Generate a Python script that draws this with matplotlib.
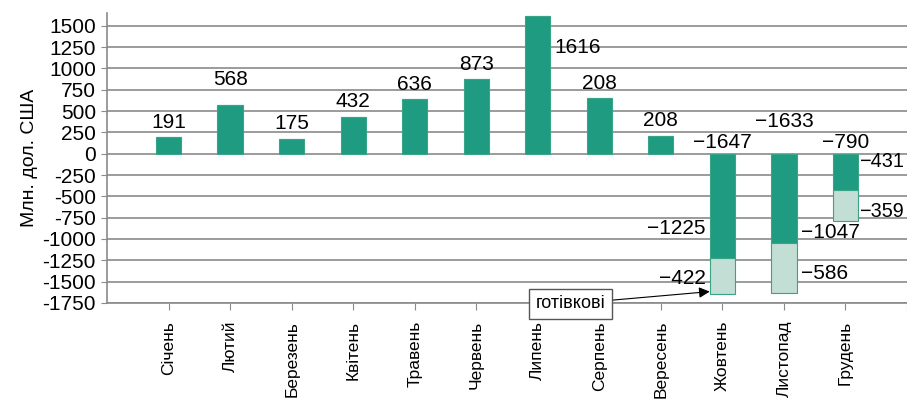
#!/usr/bin/env python3
import matplotlib
matplotlib.use("Agg")
import matplotlib.pyplot as plt

# --- Дані ---
MONTHS = ["Січень", "Лютий", "Березень", "Квітень", "Травень", "Червень",
          "Липень", "Серпень", "Вересень", "Жовтень", "Листопад", "Грудень"]
# основна (темна) частина стовпця
MAIN_VALUES = [191, 568, 175, 432, 636, 873, 1616, 650, 208, -1225, -1047, -431]
# готівкові (світла частина), лише для останніх трьох місяців
CASH_VALUES = [0, 0, 0, 0, 0, 0, 0, 0, 0, -422, -586, -359]
# підписи над стовпцями (як на рисунку)
TOP_LABELS = ["191", "568", "175", "432", "636", "873", "1616", "208", "208",
              "−1647", "−1633", "−790"]
MAIN_LABELS = ["−1225", "−1047", "−431"]
CASH_LABELS = ["−422", "−586", "−359"]
Y_TICKS = list(range(-1750, 1501, 250))

DARK = "#1f9b82"
LIGHT = "#c2ded5"
EDGE = "#3aa487"
GRID = "#8a8a8a"

plt.rcParams["font.family"] = ["Liberation Sans", "DejaVu Sans"]

fig = plt.figure(figsize=(9.07, 4.05), dpi=100)
ax = fig.add_axes([0.118, 0.252, 0.882, 0.716])

x = list(range(len(MONTHS)))
width = 0.41
ax.bar(x, MAIN_VALUES, width=width, color=DARK, edgecolor=EDGE,
       linewidth=0.8, zorder=3)
ax.bar(x, CASH_VALUES, width=width, bottom=MAIN_VALUES, color=LIGHT,
       edgecolor=EDGE, linewidth=0.8, zorder=3)

ax.set_xlim(-1, 12)
ax.set_ylim(-1750, 1650)
ax.set_yticks(Y_TICKS)
ax.set_yticklabels([str(v) for v in Y_TICKS])
ax.set_xticks(list(range(0, 13)))
ax.set_xticklabels(MONTHS + [""], rotation=90, fontsize=12.5)
ax.tick_params(axis="y", labelsize=15, length=4, color=GRID, pad=4)
ax.tick_params(axis="x", length=5, color=GRID, pad=8)
ax.yaxis.grid(True, color=GRID, linewidth=1.2, zorder=0)
for side in ("top", "right"):
    ax.spines[side].set_visible(False)
for side in ("left", "bottom"):
    ax.spines[side].set_color(GRID)
    ax.spines[side].set_linewidth(1.2)
ax.set_ylabel("Млн. дол. США", fontsize=14, labelpad=3)

# підписи значень
fs = 15
for i, (v, lab) in enumerate(zip(MAIN_VALUES, TOP_LABELS)):
    if i == 6:
        ax.annotate(lab, (i + width / 2, v), xytext=(3, -23),
                    textcoords="offset points", ha="left", va="center",
                    fontsize=fs)
    elif v >= 0:
        up = 12 if i == 1 else 4
        ax.annotate(lab, (i, v), xytext=(0, up), textcoords="offset points",
                    ha="center", va="bottom", fontsize=fs)
    else:
        up = 16 if i == 10 else 1
        ax.annotate(lab, (i, 0), xytext=(0, up), textcoords="offset points",
                    ha="center", va="bottom", fontsize=fs)

# підписи частин стовпців (жовтень ліворуч, листопад і грудень праворуч)
for k, i in enumerate([9, 10, 11]):
    main = MAIN_VALUES[i]
    cash = CASH_VALUES[i]
    size = fs
    if i == 9:
        xpos, ha, dx = i - width / 2, "right", -3
    elif i == 10:
        xpos, ha, dx = i + width / 2, "left", 3
    else:
        # грудень — біля правого краю, трохи менший шрифт
        xpos, ha, dx, size = i + width / 2, "left", 0.5, 14.3
    if i == 9:
        main_y = main * 0.72
    elif i == 10:
        main_y = main + 120
    else:
        main_y = main * 0.2
    ax.annotate(MAIN_LABELS[k], (xpos, main_y), xytext=(dx, 0),
                textcoords="offset points", ha=ha, va="center", fontsize=size)
    cash_dy = -2 if i == 9 else -4
    ax.annotate(CASH_LABELS[k], (xpos, main + cash / 2), xytext=(dx, cash_dy),
                textcoords="offset points", ha=ha, va="center", fontsize=size)

# вказівка "готівкові"
ax.annotate("готівкові", xy=(9 - width / 2, MAIN_VALUES[9] + CASH_VALUES[9] + 30),
            xytext=(6.53, -1760), ha="center", va="center", fontsize=13,
            bbox=dict(boxstyle="square,pad=0.35", fc="white", ec="#555555",
                      lw=1.0),
            arrowprops=dict(arrowstyle="-|>", color="black", lw=0.8,
                            shrinkA=0, shrinkB=0, mutation_scale=16),
            annotation_clip=False, zorder=5)

fig.savefig("out.png", dpi=100)
